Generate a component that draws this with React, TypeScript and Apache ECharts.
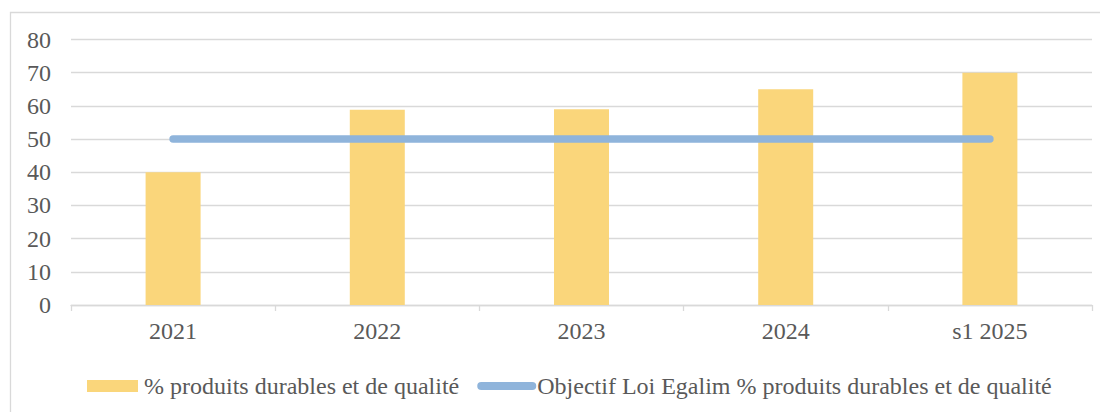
import React, { useEffect, useRef } from "react";
import * as echarts from "echarts";

const categories = ["2021", "2022", "2023", "2024", "s1 2025"];
const barValues = [40, 58.8, 59, 65, 70];
const targetValues = [50, 50, 50, 50, 50];
const barName = "% produits durables et de qualité";
const lineName = "Objectif Loi Egalim % produits durables et de qualité";

const FONT = "Liberation Serif";
const TEXT = "#595959";
const GRID = "#D9D9D9";
const BAR = "#FAD67B";
const LINE = "#8FB4DB";

export default function App() {
  const ref = useRef<HTMLDivElement>(null);
  useEffect(() => {
    if (!ref.current) return;
    const chart = echarts.init(ref.current, null, { renderer: "svg" });
    chart.setOption({
      animation: false,
      backgroundColor: "#ffffff",
      textStyle: { fontFamily: FONT },
      graphic: [
        {
          type: "rect",
          left: 0,
          top: 2,
          shape: { x: 0.5, y: 0.5, width: 1200, height: 600 },
          style: { fill: "none", stroke: GRID, lineWidth: 1.3 },
          silent: true,
        },
      ],
      grid: { left: 63, right: 16, top: 31.5, bottom: 107 },
      xAxis: {
        type: "category",
        data: categories,
        axisLine: { lineStyle: { color: GRID, width: 1.3 } },
        axisTick: { show: true, length: 6, lineStyle: { color: GRID, width: 1.3 } },
        axisLabel: { color: TEXT, fontSize: 24, fontFamily: FONT, margin: 14 },
      },
      yAxis: {
        type: "value",
        min: 0,
        max: 80,
        interval: 10,
        axisLine: { show: false },
        axisTick: { show: false },
        axisLabel: { color: TEXT, fontSize: 24, fontFamily: FONT, margin: 20 },
        splitLine: { lineStyle: { color: GRID, width: 1.3 } },
      },
      legend: {
        left: 74,
        top: 361,
        itemWidth: 51,
        itemHeight: 12,
        itemGap: 18,
        textStyle: { color: TEXT, fontSize: 24, fontFamily: FONT },
        data: [
          { name: barName, icon: "rect", textStyle: { padding: [0, 0, 0, 1] } },
          {
            name: lineName,
            lineStyle: { width: 8, cap: "round", color: LINE },
            itemStyle: { opacity: 0 },
          },
        ],
      },
      series: [
        {
          name: barName,
          type: "bar",
          data: barValues,
          barWidth: 55,
          itemStyle: { color: BAR },
        },
        {
          name: lineName,
          type: "line",
          data: targetValues,
          symbol: "none",
          lineStyle: { color: LINE, width: 7.5, cap: "round" },
          itemStyle: { color: LINE },
        },
      ],
    });
    return () => chart.dispose();
  }, []);
  return <div ref={ref} style={{ width: 1100, height: 404 }} />;
}
